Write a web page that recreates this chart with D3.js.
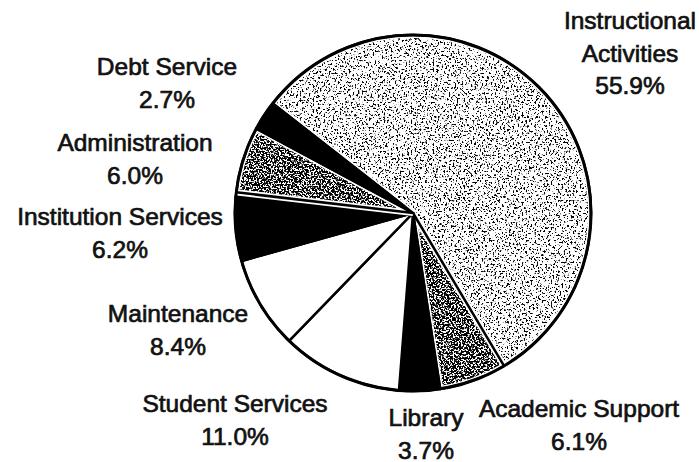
<!DOCTYPE html>
<html>
<head>
<meta charset="utf-8">
<script src="https://cdn.jsdelivr.net/npm/d3@7"></script>
<style>
  html, body { margin: 0; padding: 0; background: #fff; }
  svg { display: block; }
  .slice-label { font-family: 'Liberation Sans', Arial, sans-serif; font-size: 24.5px; fill: #111; stroke: #111; stroke-width: 0.7px; text-anchor: middle; }
</style>
</head>
<body>
<svg id="chart"></svg>
<script>
/* data */
const categories = [
  'Instructional Activities',
  'Academic Support',
  'Library',
  'Student Services',
  'Maintenance',
  'Institution Services',
  'Administration',
  'Debt Service'
];
const shares = [55.9, 6.1, 3.7, 11.0, 8.4, 6.2, 6.0, 2.7];

// fill style per slice (kept apart from the data)
const fills = ['light', 'dark', 'black', 'white', 'white', 'black', 'dark', 'black'];

// hand placed labels: centre x, first baseline
const labelSpots = [
  [630, 29], [579, 417], [426, 426], [235, 412],
  [178, 322], [120, 225], [135, 151], [167, 75]
];

const width = 699;
const height = 462;
const cx = 413;
const cy = 213;
const radius = 178;
const lineGap = 32.5;
const startDeg = -52;

const svg = d3.select('#chart')
  .attr('width', width)
  .attr('height', height);

const defs = svg.append('defs');

// stipple textures made from noise, masked by the slice shape
const addStipple = (id, freq, octaves, slope, cut, seed) => {
  const f = defs.append('filter')
    .attr('id', id)
    .attr('x', '-5%').attr('y', '-5%')
    .attr('width', '110%').attr('height', '110%')
    .attr('color-interpolation-filters', 'sRGB');
  f.append('feTurbulence')
    .attr('type', 'fractalNoise')
    .attr('baseFrequency', freq)
    .attr('numOctaves', octaves)
    .attr('seed', seed)
    .attr('result', 'noise');
  f.append('feColorMatrix')
    .attr('in', 'noise')
    .attr('type', 'matrix')
    .attr('values', '0 0 0 0 0  0 0 0 0 0  0 0 0 0 0  1 0 0 0 0')
    .attr('result', 'a');
  f.append('feComponentTransfer')
    .attr('in', 'a')
    .attr('result', 'dots')
    .append('feFuncA')
    .attr('type', 'linear')
    .attr('slope', slope)
    .attr('intercept', -slope * cut);
  f.append('feComposite')
    .attr('in', 'dots')
    .attr('in2', 'SourceAlpha')
    .attr('operator', 'in');
};
addStipple('stip-light', 0.55, 3, 12, 0.57, 3);
addStipple('stip-dark', 0.6, 2, 12, 0.43, 7);

const pie = d3.pie()
  .sort(null)
  .value(d => d)
  .startAngle(startDeg * Math.PI / 180)
  .endAngle((startDeg + 360) * Math.PI / 180);

const arcs = pie(shares);

const arc = d3.arc()
  .innerRadius(0)
  .outerRadius(radius);

const g = svg.append('g')
  .attr('transform', `translate(${cx},${cy})`);

const slices = g.selectAll('g.slice')
  .data(arcs)
  .enter()
  .append('g')
  .attr('class', 'slice');

slices.append('path')
  .attr('d', arc)
  .attr('fill', (d, i) => fills[i] === 'black' ? '#000' : '#fff');

const textured = slices.filter((d, i) => fills[i] === 'light' || fills[i] === 'dark');

textured.append('path')
  .attr('d', arc)
  .attr('fill', '#000')
  .attr('filter', d => fills[arcs.indexOf(d)] === 'light' ? 'url(#stip-light)' : 'url(#stip-dark)');

// thin white margin inside the textured slices
textured.append('path')
  .attr('d', arc)
  .attr('fill', 'none')
  .attr('stroke', '#fff')
  .attr('stroke-width', 6);

slices.append('path')
  .attr('d', arc)
  .attr('fill', 'none')
  .attr('stroke', '#000')
  .attr('stroke-width', 2.5)
  .attr('stroke-linejoin', 'round');

g.append('circle')
  .attr('r', radius)
  .attr('fill', 'none')
  .attr('stroke', '#000')
  .attr('stroke-width', 3);

// labels
const fmt = d3.format('.1f');
const wrap = name => name === 'Instructional Activities' ? ['Instructional', 'Activities'] : [name];

const labels = svg.append('g')
  .attr('class', 'labels')
  .selectAll('text')
  .data(categories)
  .enter()
  .append('text')
  .attr('class', 'slice-label')
  .attr('x', (d, i) => labelSpots[i][0])
  .attr('y', (d, i) => labelSpots[i][1]);

labels.each(function(name, i) {
  const lines = wrap(name).concat([`${fmt(shares[i])}%`]);
  d3.select(this).selectAll('tspan')
    .data(lines)
    .enter()
    .append('tspan')
    .attr('x', labelSpots[i][0])
    .attr('dy', (l, j) => j === 0 ? 0 : lineGap)
    .text(l => l);
});
</script>
</body>
</html>
